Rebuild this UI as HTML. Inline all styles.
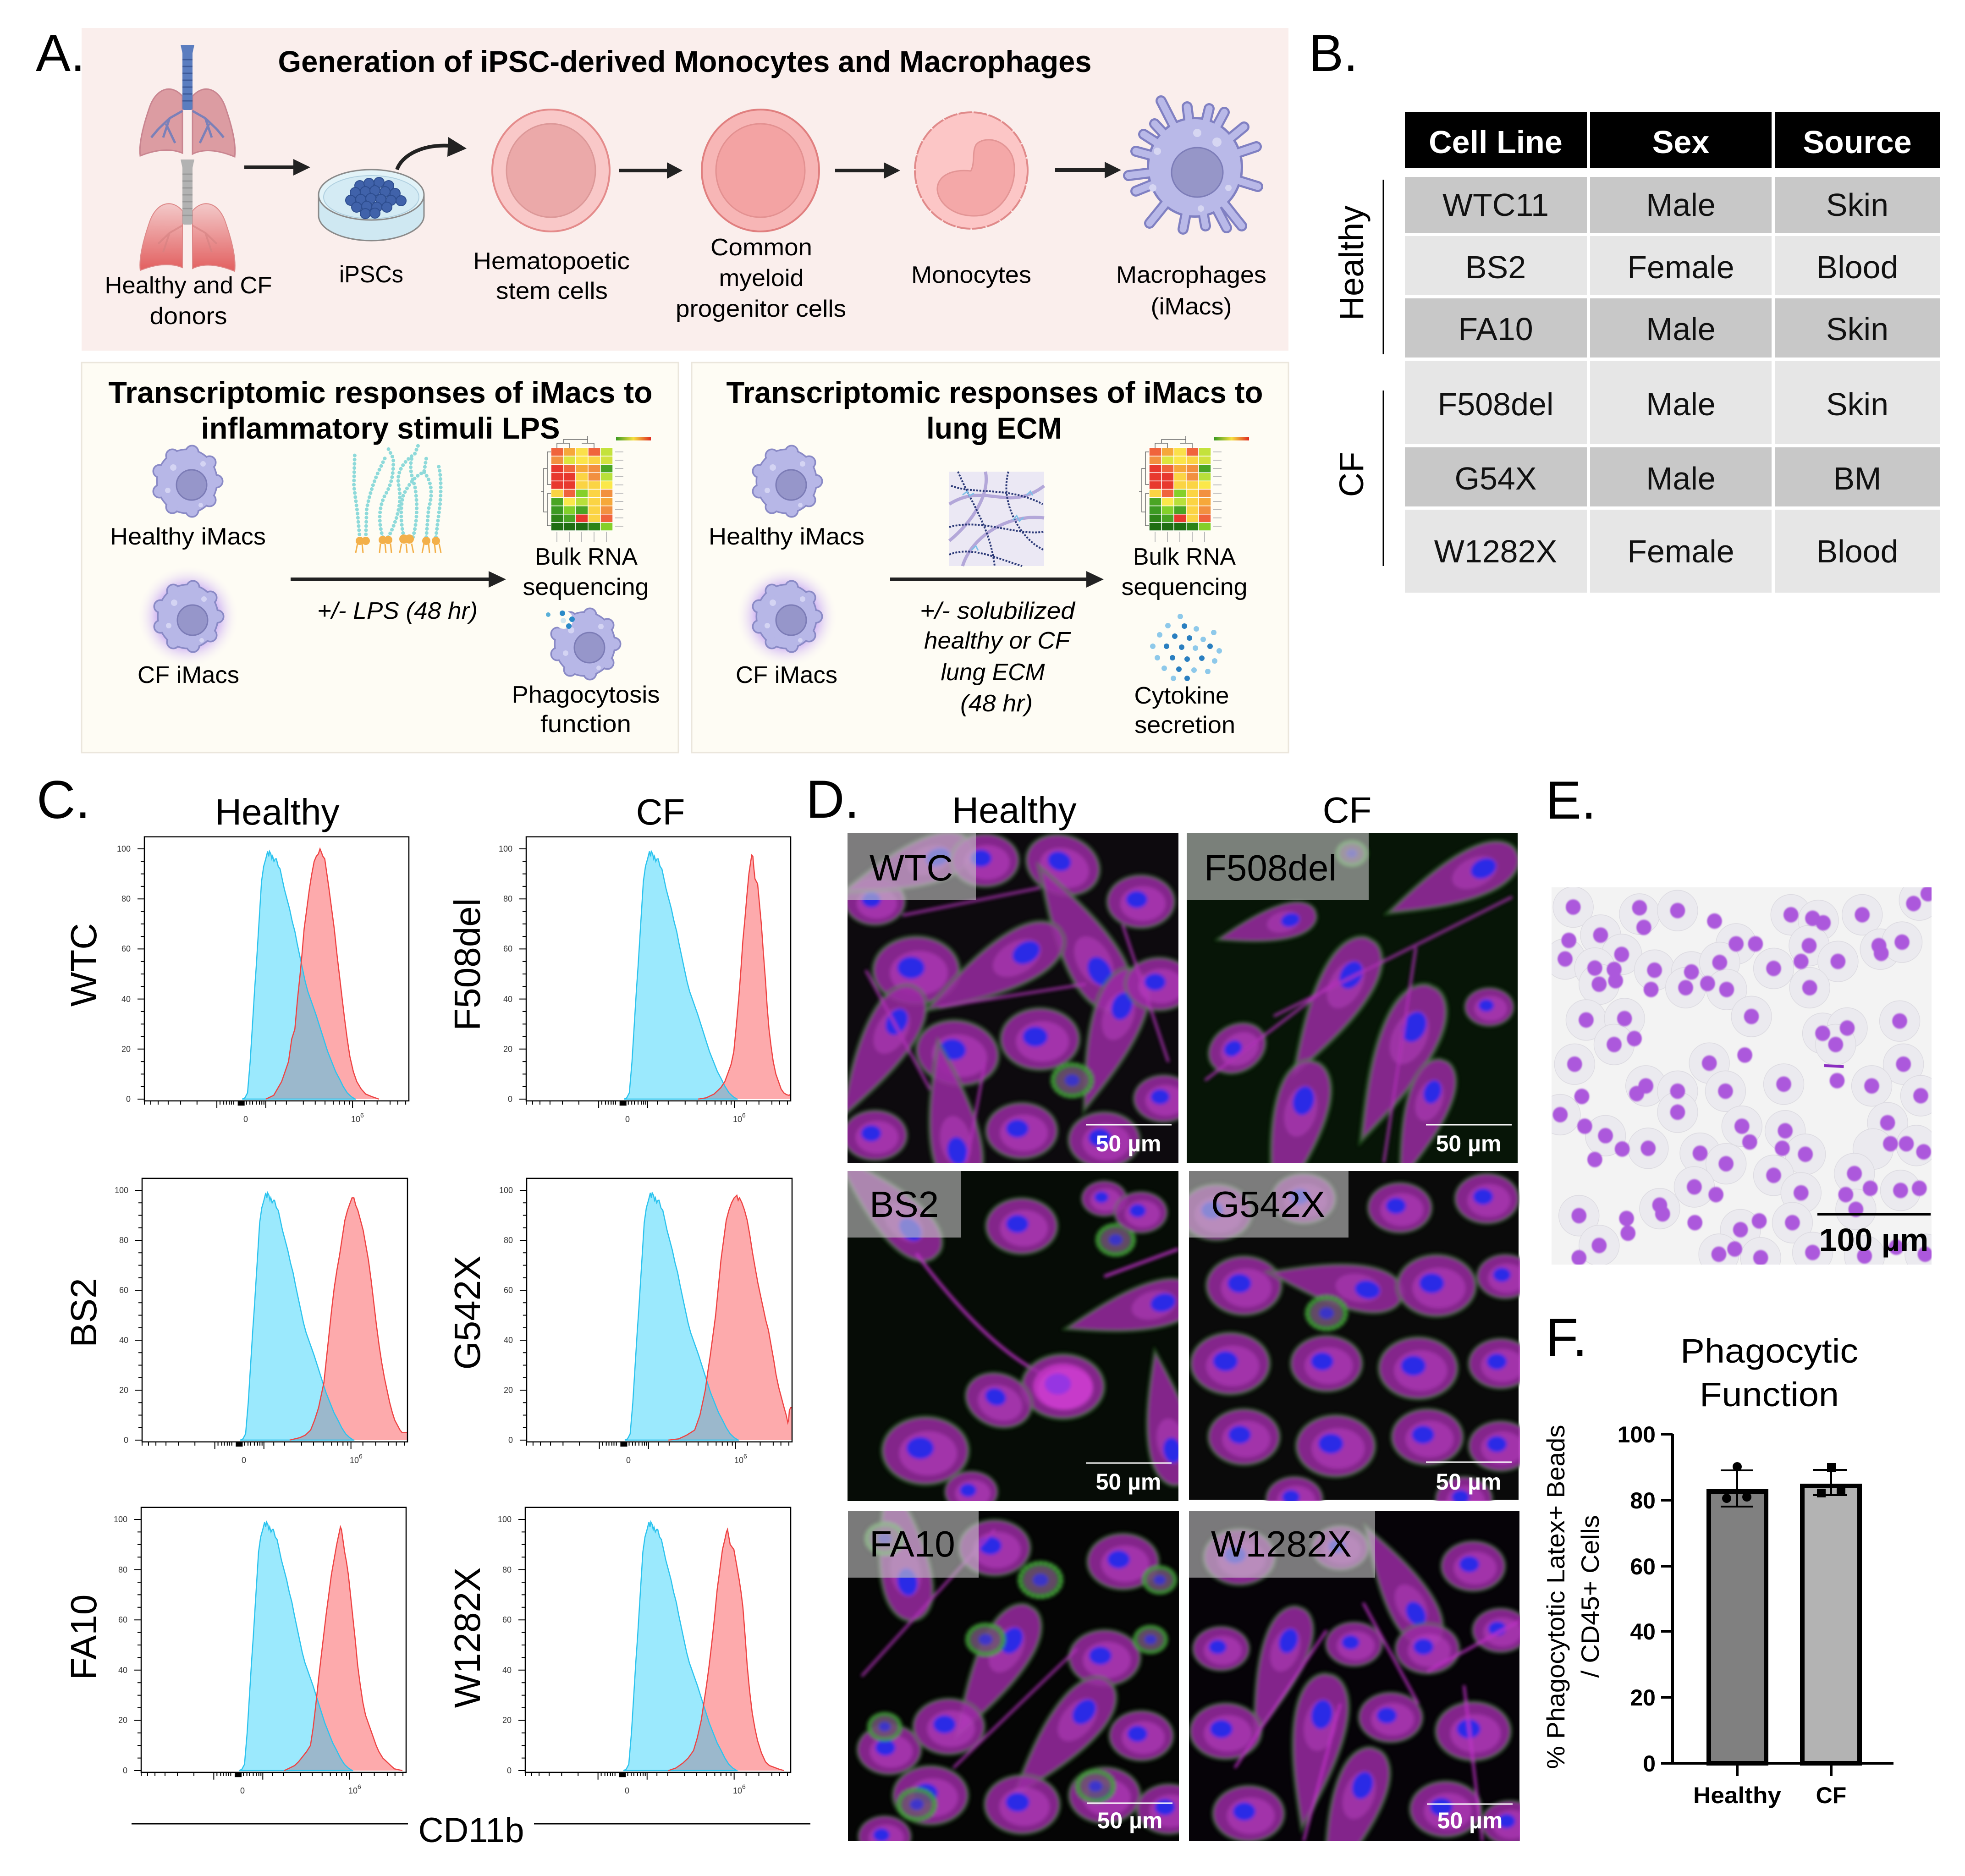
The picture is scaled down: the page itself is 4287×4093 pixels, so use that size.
<!DOCTYPE html>
<html><head><meta charset="utf-8">
<style>html,body{margin:0;padding:0;background:#fff}svg{display:block}text{font-family:"Liberation Sans",Arial,sans-serif}</style>
</head><body>
<svg xmlns="http://www.w3.org/2000/svg" width="4287" height="4093" viewBox="0 0 4287 4093">
<defs>
<polygon id="bpoly" vector-effect="non-scaling-stroke" points="370,0 380,0.5 390,2.5 400,15 410,32 417,44 423,53 433,70 443,87 451,93 459,96 466,99 470,97 473,99 478,98 482,96 485,97 490,95 495,96 499,96 506,93 513,92 521,88 529,84 539,80 549,76 559,71 569,67 578,62 588,57 598,52 608,47 618,43 628,40 638,37 648,34 663,29 678,24 693,19 708,15 723,11 738,8 752,5 767,2.5 782,1 797,0 800,0"/>
<clipPath id="cb"><polygon points="370,0 380,0.5 390,2.5 400,15 410,32 417,44 423,53 433,70 443,87 451,93 459,96 466,99 470,97 473,99 478,98 482,96 485,97 490,95 495,96 499,96 506,93 513,92 521,88 529,84 539,80 549,76 559,71 569,67 578,62 588,57 598,52 608,47 618,43 628,40 638,37 648,34 663,29 678,24 693,19 708,15 723,11 738,8 752,5 767,2.5 782,1 797,0 800,0"/></clipPath>
<g id="ax">
<path vector-effect="non-scaling-stroke" fill="none" stroke="#000" stroke-width="2" d="M0 0H-26M0 20H-26M0 40H-26M0 60H-26M0 80H-26M0 100H-26M0 5H-14M0 10H-14M0 15H-14M0 25H-14M0 30H-14M0 35H-14M0 45H-14M0 50H-14M0 55H-14M0 65H-14M0 70H-14M0 75H-14M0 85H-14M0 90H-14M0 95H-14"/>
<path vector-effect="non-scaling-stroke" fill="none" stroke="#000" stroke-width="2" d="M0 -0.7V-2.2M24 -0.7V-2.2M52 -0.7V-2.2M90 -0.7V-2.2M137 -0.7V-2.2M199 -0.7V-2.2M286 -0.7V-2.2M300 -0.7V-2.2M310 -0.7V-2.2M321 -0.7V-2.2M329 -0.7V-2.2M338 -0.7V-2.2M386 -0.7V-2.2M399 -0.7V-2.2M409 -0.7V-2.2M423 -0.7V-2.2M435 -0.7V-2.2M444 -0.7V-2.2M452 -0.7V-2.2M496 -0.7V-2.2M537 -0.7V-2.2M601 -0.7V-2.2M646 -0.7V-2.2M683 -0.7V-2.2M714 -0.7V-2.2M737 -0.7V-2.2M757 -0.7V-2.2M775 -0.7V-2.2M832 -0.7V-2.2M880 -0.7V-2.2M929 -0.7V-2.2M958 -0.7V-2.2M988 -0.7V-2.2M274 -0.7V-3.6M459 -0.7V-3.6M787 -0.7V-3.6"/>
<rect x="353" y="-2.6" width="26" height="1.9" fill="#000"/>
<rect vector-effect="non-scaling-stroke" x="0" y="-0.7" width="1000" height="105.5" fill="none" stroke="#000" stroke-width="2.5"/>
</g>
<g id="ims"><ellipse rx="64" ry="68"/><circle cx="64" cy="0" r="12"/><circle cx="49" cy="41" r="12"/><circle cx="11" cy="64" r="12"/><circle cx="-32" cy="56" r="12"/><circle cx="-60" cy="22" r="12"/><circle cx="-60" cy="-22" r="12"/><circle cx="-32" cy="-56" r="12"/><circle cx="11" cy="-64" r="12"/><circle cx="49" cy="-41" r="12"/></g>
<g id="imac"><use href="#ims" fill="#8a8ac6" stroke="#8a8ac6" stroke-width="7"/><use href="#ims" fill="#b7b7e7"/><circle cx="10" cy="8" r="33" fill="#9696ca" stroke="#7c7cb6" stroke-width="3"/><circle cx="-30" cy="-30" r="7" fill="#d4d4f3"/><circle cx="35" cy="-38" r="6" fill="#d4d4f3"/><circle cx="-42" cy="20" r="6" fill="#d4d4f3"/><circle cx="30" cy="52" r="5" fill="#d4d4f3"/></g>
<radialGradient id="glow"><stop offset="0.45" stop-color="#a472f2" stop-opacity="0.9"/><stop offset="1" stop-color="#fefcf5" stop-opacity="0"/></radialGradient>
<linearGradient id="lungG" x1="0" y1="0" x2="0" y2="1"><stop offset="0" stop-color="#f3c9c9"/><stop offset="1" stop-color="#e25f5f"/></linearGradient>
<linearGradient id="cbar" x1="0" x2="1"><stop offset="0" stop-color="#3a9a20"/><stop offset="0.5" stop-color="#f6e040"/><stop offset="1" stop-color="#e02a20"/></linearGradient>
<g id="hm">
<g stroke="#fff" stroke-width="1.5">
<rect x="0" y="0" width="27" height="18.1" fill="#f0643c"/><rect x="27" y="0" width="27" height="18.1" fill="#f6a83a"/><rect x="54" y="0" width="27" height="18.1" fill="#fbe04a"/><rect x="81" y="0" width="27" height="18.1" fill="#f0643c"/><rect x="108" y="0" width="27" height="18.1" fill="#c4e23c"/>
<rect x="0" y="18.1" width="27" height="18.1" fill="#f29040"/><rect x="27" y="18.1" width="27" height="18.1" fill="#dde43e"/><rect x="54" y="18.1" width="27" height="18.1" fill="#fbe54a"/><rect x="81" y="18.1" width="27" height="18.1" fill="#fbd444"/><rect x="108" y="18.1" width="27" height="18.1" fill="#d2e23e"/>
<rect x="0" y="36.2" width="27" height="18.1" fill="#e8382e"/><rect x="27" y="36.2" width="27" height="18.1" fill="#f0643c"/><rect x="54" y="36.2" width="27" height="18.1" fill="#f6a83a"/><rect x="81" y="36.2" width="27" height="18.1" fill="#f29040"/><rect x="108" y="36.2" width="27" height="18.1" fill="#4aa524"/>
<rect x="0" y="54.3" width="27" height="18.1" fill="#e8382e"/><rect x="27" y="54.3" width="27" height="18.1" fill="#e8382e"/><rect x="54" y="54.3" width="27" height="18.1" fill="#fbd444"/><rect x="81" y="54.3" width="27" height="18.1" fill="#f29040"/><rect x="108" y="54.3" width="27" height="18.1" fill="#b8e03a"/>
<rect x="0" y="72.4" width="27" height="18.1" fill="#e8382e"/><rect x="27" y="72.4" width="27" height="18.1" fill="#e8382e"/><rect x="54" y="72.4" width="27" height="18.1" fill="#fbd444"/><rect x="81" y="72.4" width="27" height="18.1" fill="#fbd444"/><rect x="108" y="72.4" width="27" height="18.1" fill="#fbe84a"/>
<rect x="0" y="90.5" width="27" height="18.1" fill="#fbd444"/><rect x="27" y="90.5" width="27" height="18.1" fill="#f0643c"/><rect x="54" y="90.5" width="27" height="18.1" fill="#84d02a"/><rect x="81" y="90.5" width="27" height="18.1" fill="#fbd444"/><rect x="108" y="90.5" width="27" height="18.1" fill="#f29040"/>
<rect x="0" y="108.6" width="27" height="18.1" fill="#4aa524"/><rect x="27" y="108.6" width="27" height="18.1" fill="#fbe84a"/><rect x="54" y="108.6" width="27" height="18.1" fill="#b8e03a"/><rect x="81" y="108.6" width="27" height="18.1" fill="#fbd444"/><rect x="108" y="108.6" width="27" height="18.1" fill="#f6a83a"/>
<rect x="0" y="126.7" width="27" height="18.1" fill="#3c9a22"/><rect x="27" y="126.7" width="27" height="18.1" fill="#84d02a"/><rect x="54" y="126.7" width="27" height="18.1" fill="#4aa524"/><rect x="81" y="126.7" width="27" height="18.1" fill="#fbd444"/><rect x="108" y="126.7" width="27" height="18.1" fill="#f29040"/>
<rect x="0" y="144.8" width="27" height="18.1" fill="#2d8418"/><rect x="27" y="144.8" width="27" height="18.1" fill="#4aa524"/><rect x="54" y="144.8" width="27" height="18.1" fill="#e8382e"/><rect x="81" y="144.8" width="27" height="18.1" fill="#fbd444"/><rect x="108" y="144.8" width="27" height="18.1" fill="#f0643c"/>
<rect x="0" y="162.9" width="27" height="18.1" fill="#1f6e12"/><rect x="27" y="162.9" width="27" height="18.1" fill="#1f6e12"/><rect x="54" y="162.9" width="27" height="18.1" fill="#1f6e12"/><rect x="81" y="162.9" width="27" height="18.1" fill="#2d8418"/><rect x="108" y="162.9" width="27" height="18.1" fill="#84d02a"/>
</g>
<path d="M0 9H-8V80H0M-8 45H-16V140H-8M0 100H-8V170H0M-16 95H-22M13 0V-10H40V0M27 -10V-18H80V-10M67 -10H94V0M80 -18V-26" fill="none" stroke="#666" stroke-width="1.5"/>
<rect x="142" y="-24" width="76" height="8" fill="url(#cbar)"/>
<path d="M140 9h18M140 27h18M140 45h18M140 63h18M140 81h18M140 99h18M140 117h18M140 135h18M140 153h18M140 171h18M13 183v22M40 183v22M67 183v22M94 183v22M121 183v22" stroke="#bbb" stroke-width="2"/>
</g>
<g id="cA"><ellipse rx="82" ry="64" fill="#9a2aa2" opacity=".85"/><ellipse rx="82" ry="64" fill="none" stroke="#3f9a36" stroke-width="7" opacity=".45"/><ellipse cx="5" cy="5" rx="55" ry="42" fill="#c84ad0" opacity=".45"/><ellipse cx="-10" cy="-5" rx="26" ry="21" fill="#2a2ae6"/></g>
<g id="cE"><path d="M-170 0C-100 -24 -20 -52 50 -50C115 -48 130 -15 127 0C130 18 110 48 50 50C-20 52 -100 24 -170 0Z" fill="#9a2aa2" opacity=".85"/><path d="M-170 0C-100 -24 -20 -52 50 -50C115 -48 130 -15 127 0C130 18 110 48 50 50C-20 52 -100 24 -170 0Z" fill="none" stroke="#3f9a36" stroke-width="7" opacity=".45"/><ellipse cx="30" cy="0" rx="50" ry="30" fill="#c84ad0" opacity=".4"/><ellipse cx="50" cy="0" rx="28" ry="20" fill="#2a2ae6"/></g>
<g id="cG"><ellipse rx="60" ry="50" fill="#2c7a28" opacity=".75"/><ellipse rx="44" ry="36" fill="#9a3aa0" opacity=".55"/><ellipse rx="52" ry="43" fill="none" stroke="#5ad04a" stroke-width="8" stroke-dasharray="7 6" opacity=".85"/><ellipse cx="0" cy="0" rx="20" ry="16" fill="#3030e0" opacity=".8"/></g>
<filter id="soft" x="-5%" y="-5%" width="110%" height="110%"><feGaussianBlur stdDeviation="4"/></filter>
<filter id="soft2" x="-20%" y="-20%" width="140%" height="140%"><feGaussianBlur stdDeviation="2"/></filter>
<clipPath id="cpD"><rect x="0" y="0" width="722" height="720"/></clipPath>
<clipPath id="cpE"><rect x="3385" y="1936" width="829" height="823"/></clipPath>
<ellipse id="nu" rx="26" ry="22" fill="#ac58dc"/>
<ellipse id="ha" rx="70" ry="58" fill="#e9e8ee" stroke="#d6d4dc" stroke-width="2"/>
</defs>
<rect width="4287" height="4093" fill="#fff"/>

<!-- ================= PANEL A ================= -->
<rect x="178" y="61" width="2633" height="704" fill="#faeeec"/>
<rect x="178" y="791" width="1302" height="851" fill="#fefcf4" stroke="#ebe6dc" stroke-width="3"/>
<rect x="1509" y="791" width="1302" height="851" fill="#fefcf4" stroke="#ebe6dc" stroke-width="3"/>
<text x="78" y="155" font-size="114">A.</text>
<text x="1494" y="157" font-size="66" font-weight="bold" text-anchor="middle" textLength="1775" lengthAdjust="spacingAndGlyphs">Generation of iPSC-derived Monocytes and Macrophages</text>

<!-- lungs -->
<g>
<path d="M398 210C375 183 340 190 325 238C309 285 303 318 306 340C335 328 370 322 398 334Z" fill="#dc9ca2" stroke="#c98590" stroke-width="3"/>
<path d="M420 210C443 183 478 190 493 238C509 285 515 318 512 342C483 330 448 322 420 336Z" fill="#dc9ca2" stroke="#c98590" stroke-width="3"/>
<path d="M398 242L370 258L345 282M370 258L356 300M345 282L330 300M362 270L382 312M420 242L448 258L473 282M448 258L462 300M473 282L488 300M456 270L436 312" stroke="#7b80b8" stroke-width="5" fill="none"/>
<rect x="398" y="108" width="22" height="132" rx="4" fill="#5b7dbf"/>
<path d="M394 98L424 98L420 116L398 116Z" fill="#5b7dbf"/>
<path d="M398 130H420M398 145H420M398 160H420M398 175H420M398 190H420M398 205H420M398 220H420" stroke="#3d5a9a" stroke-width="3"/>
</g>
<g transform="translate(0 250)">
<path d="M398 210C375 183 340 190 325 238C309 285 303 318 306 340C335 328 370 322 398 334Z" fill="url(#lungG)" stroke="#d88" stroke-width="2"/>
<path d="M420 210C443 183 478 190 493 238C509 285 515 318 512 342C483 330 448 322 420 336Z" fill="url(#lungG)" stroke="#d88" stroke-width="2"/>
<path d="M398 242L370 258L345 282M370 258L356 300M420 242L448 258L473 282M448 258L462 300" stroke="#d48080" stroke-width="4" fill="none" opacity=".6"/>
<rect x="398" y="108" width="22" height="132" rx="4" fill="#b2b2b2"/>
<path d="M394 98L424 98L420 116L398 116Z" fill="#b2b2b2"/>
<path d="M398 130H420M398 145H420M398 160H420M398 175H420M398 190H420M398 205H420M398 220H420" stroke="#999" stroke-width="3"/>
</g>
<!-- arrows -->
<g stroke="#222" stroke-width="8">
<line x1="533" y1="365" x2="642" y2="365"/><line x1="1350" y1="372" x2="1457" y2="372"/><line x1="1822" y1="372" x2="1930" y2="372"/><line x1="2302" y1="371" x2="2412" y2="371"/>
<line x1="634" y1="1264" x2="1070" y2="1264"/><line x1="1942" y1="1264" x2="2374" y2="1264"/>
</g>
<g fill="#222">
<polygon points="640,347 677,365 640,383"/><polygon points="1455,354 1489,372 1455,390"/><polygon points="1928,354 1964,372 1928,390"/><polygon points="2410,353 2446,371 2410,389"/>
<polygon points="1066,1246 1104,1264 1066,1282"/><polygon points="2370,1246 2408,1264 2370,1282"/>
</g>
<!-- petri dish -->
<ellipse cx="810" cy="470" rx="115" ry="55" fill="#cfe8f2" stroke="#8a8a8a" stroke-width="3"/>
<rect x="695" y="425" width="230" height="45" fill="#cfe8f2"/>
<path d="M695 425V470M925 425V470" stroke="#8a8a8a" stroke-width="3"/>
<ellipse cx="810" cy="425" rx="115" ry="55" fill="#e2f3f8" stroke="#8a8a8a" stroke-width="3"/>
<ellipse cx="810" cy="430" rx="104" ry="47" fill="#d4ebf4" stroke="#b0d0e0" stroke-width="2"/>
<g fill="#4062aa" stroke="#2d4d8f" stroke-width="2">
<circle cx="785" cy="405" r="11"/><circle cx="805" cy="400" r="11"/><circle cx="827" cy="398" r="11"/><circle cx="848" cy="405" r="11"/><circle cx="775" cy="420" r="11"/><circle cx="797" cy="418" r="11"/><circle cx="818" cy="416" r="11"/><circle cx="840" cy="418" r="11"/><circle cx="862" cy="422" r="11"/><circle cx="765" cy="437" r="11"/><circle cx="787" cy="435" r="11"/><circle cx="809" cy="433" r="11"/><circle cx="831" cy="435" r="11"/><circle cx="853" cy="437" r="11"/><circle cx="875" cy="438" r="11"/><circle cx="778" cy="452" r="11"/><circle cx="800" cy="450" r="11"/><circle cx="822" cy="452" r="11"/><circle cx="844" cy="452" r="11"/><circle cx="797" cy="466" r="11"/><circle cx="818" cy="465" r="11"/>
</g>
<path d="M866 370C876 340 920 314 982 318" stroke="#222" stroke-width="8" fill="none"/>
<polygon points="978,299 1018,324 976,342" fill="#222"/>
<!-- HSC / CMP -->
<ellipse cx="1202" cy="372" rx="128" ry="133" fill="#f9c8c8" stroke="#e48b8b" stroke-width="4"/>
<ellipse cx="1202" cy="372" rx="97" ry="102" fill="#eba9a9" stroke="#dc9898" stroke-width="3"/>
<ellipse cx="1659" cy="372" rx="128" ry="133" fill="#f7b6b6" stroke="#e07f7f" stroke-width="4"/>
<ellipse cx="1659" cy="372" rx="97" ry="102" fill="#f3a3a3" stroke="#e39191" stroke-width="3"/>
<!-- Monocyte -->
<ellipse cx="2119" cy="372" rx="123" ry="127" fill="#fcc6c6" stroke="#e08a8a" stroke-width="4" stroke-dasharray="30 3"/>
<path d="M2118 373C2128 355 2120 330 2130 315C2145 298 2190 300 2208 340C2225 385 2200 450 2150 468C2100 480 2050 455 2045 415C2043 385 2075 368 2118 373Z" fill="#f4a8a8" stroke="#e39595" stroke-width="3"/>
<!-- Macrophage -->
<g stroke-linecap="round">
<path stroke="#8080c2" stroke-width="24" d="M2607 365L2533 220M2607 365L2590 233M2607 365L2638 237M2607 365L2671 245M2607 365L2714 277M2607 365L2741 320M2607 365L2744 407M2607 365L2709 493M2607 365L2676 497M2607 365L2630 493M2607 365L2581 500M2607 365L2508 487M2607 365L2478 417M2607 365L2462 383M2607 365L2478 330M2607 365L2495 293M2607 365L2519 270"/>
<ellipse cx="2607" cy="365" rx="105" ry="110" fill="#8080c2"/>
<path stroke="#b9b9e8" stroke-width="15" d="M2607 365L2533 220M2607 365L2590 233M2607 365L2638 237M2607 365L2671 245M2607 365L2714 277M2607 365L2741 320M2607 365L2744 407M2607 365L2709 493M2607 365L2676 497M2607 365L2630 493M2607 365L2581 500M2607 365L2508 487M2607 365L2478 417M2607 365L2462 383M2607 365L2478 330M2607 365L2495 293M2607 365L2519 270"/>
<ellipse cx="2607" cy="365" rx="100" ry="105" fill="#b9b9e8"/>
<ellipse cx="2612" cy="376" rx="56" ry="54" fill="#9696c8" stroke="#7d7db8" stroke-width="3"/>
<circle cx="2612" cy="290" r="9" fill="#d6d6f2"/><circle cx="2655" cy="310" r="10" fill="#d6d6f2"/><circle cx="2525" cy="330" r="8" fill="#d6d6f2"/><circle cx="2515" cy="410" r="8" fill="#d6d6f2"/><circle cx="2680" cy="410" r="7" fill="#d6d6f2"/><circle cx="2620" cy="455" r="7" fill="#d6d6f2"/>
</g>
<g font-size="52" text-anchor="middle">
<text x="411" y="640" textLength="365" lengthAdjust="spacingAndGlyphs">Healthy and CF</text>
<text x="411" y="707" textLength="169" lengthAdjust="spacingAndGlyphs">donors</text>
<text x="810" y="616" textLength="140" lengthAdjust="spacingAndGlyphs">iPSCs</text>
<text x="1203" y="587" textLength="342" lengthAdjust="spacingAndGlyphs">Hematopoetic</text>
<text x="1204" y="652" textLength="244" lengthAdjust="spacingAndGlyphs">stem cells</text>
<text x="1661" y="557" textLength="222" lengthAdjust="spacingAndGlyphs">Common</text>
<text x="1661" y="624" textLength="185" lengthAdjust="spacingAndGlyphs">myeloid</text>
<text x="1660" y="691" textLength="372" lengthAdjust="spacingAndGlyphs">progenitor cells</text>
<text x="2119" y="617" textLength="262" lengthAdjust="spacingAndGlyphs">Monocytes</text>
<text x="2599" y="617" textLength="328" lengthAdjust="spacingAndGlyphs">Macrophages</text>
<text x="2599" y="686" textLength="177" lengthAdjust="spacingAndGlyphs">(iMacs)</text>
</g>
<g font-size="66" font-weight="bold" text-anchor="middle">
<text x="830" y="879" textLength="1187" lengthAdjust="spacingAndGlyphs">Transcriptomic responses of  iMacs to</text>
<text x="830" y="957" textLength="783" lengthAdjust="spacingAndGlyphs">inflammatory stimuli LPS</text>
<text x="2170" y="879" textLength="1171" lengthAdjust="spacingAndGlyphs">Transcriptomic responses of iMacs to</text>
<text x="2169" y="957" textLength="296" lengthAdjust="spacingAndGlyphs">lung ECM</text>
</g>
<!-- sub icons -->
<circle cx="410" cy="1345" r="112" fill="url(#glow)"/>
<circle cx="1716" cy="1345" r="112" fill="url(#glow)"/>
<use href="#imac" transform="translate(408 1050)"/>
<use href="#imac" transform="translate(410 1345)"/>
<use href="#imac" transform="translate(1716 1050)"/>
<use href="#imac" transform="translate(1716 1345)"/>
<use href="#imac" transform="translate(1276 1405)"/>
<circle cx="1230" cy="1352" r="20" fill="#fefcf4"/>
<circle cx="1196" cy="1341" r="5" fill="#5ab0d8"/><circle cx="1227" cy="1338" r="6" fill="#2a8ac8"/><circle cx="1248" cy="1351" r="6" fill="#2a8ac8"/><circle cx="1241" cy="1366" r="6" fill="#2a8ac8"/><circle cx="1229" cy="1354" r="6" fill="#cfe6f0"/>
<!-- LPS -->
<g fill="none" stroke="#8edada" stroke-width="8" stroke-linecap="round" stroke-dasharray="0.1 9">
<path d="M785 1175L780 1120L772 1060L774 990"/>
<path d="M798 1175L800 1110Q810 1060 830 1020L842 995"/>
<path d="M835 1172Q820 1120 840 1080Q860 1050 858 1000L845 975"/>
<path d="M847 1172Q880 1110 870 1060Q862 1020 905 990L915 965"/>
<path d="M881 1172Q870 1120 880 1080Q900 1040 925 1030L930 1000"/>
<path d="M901 1172Q915 1120 905 1060Q890 1020 900 995"/>
<path d="M930 1172L935 1110Q950 1060 925 1030"/>
<path d="M951 1172L960 1100Q965 1040 955 1010"/>
</g>
<g fill="#f3b04a"><circle cx="785" cy="1180" r="9"/><circle cx="798" cy="1180" r="9"/><circle cx="835" cy="1178" r="9"/><circle cx="847" cy="1178" r="9"/><circle cx="881" cy="1176" r="10"/><circle cx="893" cy="1176" r="10"/><circle cx="930" cy="1180" r="9"/><circle cx="951" cy="1180" r="9"/></g>
<path d="M780 1186L776 1206M790 1186L792 1206M830 1186L828 1206M840 1186L842 1206M852 1186L854 1206M876 1186L872 1206M886 1186L888 1206M898 1186L902 1206M925 1186L921 1206M935 1186L937 1206M948 1186L950 1206M958 1186L962 1206" stroke="#f3b04a" stroke-width="3"/>
<!-- heatmaps -->
<use href="#hm" transform="translate(1202 977)"/>
<use href="#hm" transform="translate(2507 977)"/>
<!-- ECM -->
<rect x="2071" y="1029" width="207" height="206" fill="#ebe8f4"/>
<g fill="none">
<path d="M2071 1100C2150 1050 2200 1120 2278 1060M2100 1235C2120 1170 2200 1120 2278 1130M2150 1029C2160 1080 2120 1140 2071 1180" stroke="#a99bd4" stroke-width="7" opacity=".85"/>
<path d="M2075 1060C2130 1080 2200 1060 2275 1100M2090 1029C2120 1100 2160 1150 2170 1235M2071 1150C2140 1130 2220 1170 2278 1160M2200 1029C2180 1100 2230 1180 2278 1200M2071 1210C2120 1190 2180 1220 2230 1235" stroke="#2c3a78" stroke-width="4" stroke-dasharray="4 3"/>
<path d="M2100 1080l10 -8l5 10l10 -6M2210 1135l8 -10l6 12l9 -8M2120 1200l9 -9l5 10M2240 1080l8 -8l5 9" stroke="#7ec0e8" stroke-width="3"/>
</g>
<!-- cytokine dots -->
<g>
<circle cx="2575" cy="1345" r="6" fill="#8ec9ea"/><circle cx="2548" cy="1365" r="6" fill="#8ec9ea"/><circle cx="2584" cy="1366" r="6" fill="#2a7fc0"/><circle cx="2610" cy="1372" r="6" fill="#8ec9ea"/><circle cx="2530" cy="1385" r="6" fill="#8ec9ea"/><circle cx="2563" cy="1388" r="6" fill="#2a7fc0"/><circle cx="2595" cy="1392" r="6" fill="#2a7fc0"/><circle cx="2625" cy="1395" r="6" fill="#8ec9ea"/><circle cx="2648" cy="1380" r="6" fill="#8ec9ea"/><circle cx="2515" cy="1410" r="6" fill="#8ec9ea"/><circle cx="2545" cy="1410" r="6" fill="#2a7fc0"/><circle cx="2578" cy="1412" r="6" fill="#2a7fc0"/><circle cx="2608" cy="1414" r="6" fill="#8ec9ea"/><circle cx="2640" cy="1410" r="6" fill="#2a7fc0"/><circle cx="2660" cy="1420" r="6" fill="#8ec9ea"/><circle cx="2525" cy="1435" r="6" fill="#8ec9ea"/><circle cx="2558" cy="1435" r="6" fill="#2a7fc0"/><circle cx="2590" cy="1438" r="6" fill="#2a7fc0"/><circle cx="2622" cy="1436" r="6" fill="#2a7fc0"/><circle cx="2650" cy="1442" r="6" fill="#8ec9ea"/><circle cx="2540" cy="1458" r="6" fill="#8ec9ea"/><circle cx="2572" cy="1460" r="6" fill="#2a7fc0"/><circle cx="2605" cy="1462" r="6" fill="#8ec9ea"/><circle cx="2635" cy="1465" r="6" fill="#8ec9ea"/><circle cx="2560" cy="1480" r="6" fill="#8ec9ea"/><circle cx="2590" cy="1480" r="6" fill="#2a7fc0"/>
</g>
<g font-size="52" text-anchor="middle">
<text x="410" y="1188" textLength="340" lengthAdjust="spacingAndGlyphs">Healthy iMacs</text>
<text x="411" y="1490" textLength="222" lengthAdjust="spacingAndGlyphs">CF iMacs</text>
<text x="867" y="1350" font-style="italic" textLength="350" lengthAdjust="spacingAndGlyphs">+/- LPS (48 hr)</text>
<text x="1279" y="1232" textLength="224" lengthAdjust="spacingAndGlyphs">Bulk RNA</text>
<text x="1278" y="1298" textLength="275" lengthAdjust="spacingAndGlyphs">sequencing</text>
<text x="1278" y="1533" textLength="323" lengthAdjust="spacingAndGlyphs">Phagocytosis</text>
<text x="1278" y="1597" textLength="198" lengthAdjust="spacingAndGlyphs">function</text>
<text x="1716" y="1188" textLength="340" lengthAdjust="spacingAndGlyphs">Healthy iMacs</text>
<text x="1716" y="1490" textLength="222" lengthAdjust="spacingAndGlyphs">CF iMacs</text>
<text x="2176" y="1350" font-style="italic" textLength="338" lengthAdjust="spacingAndGlyphs">+/- solubilized</text>
<text x="2175" y="1415" font-style="italic" textLength="318" lengthAdjust="spacingAndGlyphs">healthy or CF</text>
<text x="2166" y="1484" font-style="italic" textLength="227" lengthAdjust="spacingAndGlyphs">lung ECM</text>
<text x="2174" y="1552" font-style="italic" textLength="158" lengthAdjust="spacingAndGlyphs">(48 hr)</text>
<text x="2584" y="1232" textLength="224" lengthAdjust="spacingAndGlyphs">Bulk RNA</text>
<text x="2584" y="1298" textLength="275" lengthAdjust="spacingAndGlyphs">sequencing</text>
<text x="2578" y="1535" textLength="207" lengthAdjust="spacingAndGlyphs">Cytokine</text>
<text x="2585" y="1599" textLength="220" lengthAdjust="spacingAndGlyphs">secretion</text>
</g>

<!-- ================= PANEL B ================= -->
<text x="2855" y="155" font-size="114">B.</text>
<rect x="3065" y="244" width="397" height="122" fill="#000"/><rect x="3469" y="244" width="396" height="122" fill="#000"/><rect x="3872" y="244" width="360" height="122" fill="#000"/>
<g>
<rect x="3065" y="386" width="397" height="122" fill="#c8c8c8"/><rect x="3469" y="386" width="396" height="122" fill="#c8c8c8"/><rect x="3872" y="386" width="360" height="122" fill="#c8c8c8"/>
<rect x="3065" y="515" width="397" height="129" fill="#e6e6e6"/><rect x="3469" y="515" width="396" height="129" fill="#e6e6e6"/><rect x="3872" y="515" width="360" height="129" fill="#e6e6e6"/>
<rect x="3065" y="651" width="397" height="129" fill="#c8c8c8"/><rect x="3469" y="651" width="396" height="129" fill="#c8c8c8"/><rect x="3872" y="651" width="360" height="129" fill="#c8c8c8"/>
<rect x="3065" y="787" width="397" height="182" fill="#e6e6e6"/><rect x="3469" y="787" width="396" height="182" fill="#e6e6e6"/><rect x="3872" y="787" width="360" height="182" fill="#e6e6e6"/>
<rect x="3065" y="976" width="397" height="129" fill="#c8c8c8"/><rect x="3469" y="976" width="396" height="129" fill="#c8c8c8"/><rect x="3872" y="976" width="360" height="129" fill="#c8c8c8"/>
<rect x="3065" y="1112" width="397" height="181" fill="#e6e6e6"/><rect x="3469" y="1112" width="396" height="181" fill="#e6e6e6"/><rect x="3872" y="1112" width="360" height="181" fill="#e6e6e6"/>
</g>
<g font-size="70" font-weight="bold" fill="#fff" text-anchor="middle">
<text x="3263" y="334">Cell Line</text><text x="3667" y="334">Sex</text><text x="4052" y="334">Source</text>
</g>
<g font-size="70" text-anchor="middle" fill="#111">
<text x="3263" y="471">WTC11</text><text x="3667" y="471">Male</text><text x="4052" y="471">Skin</text>
<text x="3263" y="607">BS2</text><text x="3667" y="607">Female</text><text x="4052" y="607">Blood</text>
<text x="3263" y="742">FA10</text><text x="3667" y="742">Male</text><text x="4052" y="742">Skin</text>
<text x="3263" y="906">F508del</text><text x="3667" y="906">Male</text><text x="4052" y="906">Skin</text>
<text x="3263" y="1068">G54X</text><text x="3667" y="1068">Male</text><text x="4052" y="1068">BM</text>
<text x="3263" y="1227">W1282X</text><text x="3667" y="1227">Female</text><text x="4052" y="1227">Blood</text>
</g>
<path d="M3018 392V773M3018 852V1235" stroke="#000" stroke-width="3"/>
<text x="2974" y="574" font-size="74" text-anchor="middle" transform="rotate(-90 2974 574)">Healthy</text>
<text x="2974" y="1035" font-size="74" text-anchor="middle" transform="rotate(-90 2974 1035)">CF</text>

<!-- ================= PANEL C ================= -->
<text x="80" y="1785" font-size="117">C.</text>
<text x="605" y="1799" font-size="80" text-anchor="middle">Healthy</text>
<text x="1441" y="1799" font-size="80" text-anchor="middle">CF</text>
<g font-size="80" text-anchor="middle">
<text x="210" y="2105" transform="rotate(-90 210 2105)">WTC</text>
<text x="1047" y="2104" transform="rotate(-90 1047 2104)">F508del</text>
<text x="210" y="2864" transform="rotate(-90 210 2864)">BS2</text>
<text x="1047" y="2864" transform="rotate(-90 1047 2864)">G542X</text>
<text x="210" y="3572" transform="rotate(-90 210 3572)">FA10</text>
<text x="1047" y="3573" transform="rotate(-90 1047 3573)">W1282X</text>
</g>

<g transform="translate(315 2398) scale(0.577 -5.46)">
<use href="#bpoly" fill="#9be9fd"/>
<polygon points="459,0 489,1.5 519,7 545,15 557,24 569,28 579,40 588,49 596,58 604,68 614,76 624,84 633,90 642,95 650,97 658,98 664,100 668,99 675,97 682,96 690,90 698,84 708,76 718,68 728,58 738,49 748,40 757,32 767,24 777,17 790,11 803,7 820,4 837,2 860,1 887,0" fill="#fdaaac"/>
<polygon points="459,0 489,1.5 519,7 545,15 557,24 569,28 579,40 588,49 596,58 604,68 614,76 624,84 633,90 642,95 650,97 658,98 664,100 668,99 675,97 682,96 690,90 698,84 708,76 718,68 728,58 738,49 748,40 757,32 767,24 777,17 790,11 803,7 820,4 837,2 860,1 887,0" fill="#9bb8cc" clip-path="url(#cb)"/>
<use href="#bpoly" fill="none" stroke="#2cc3ee" stroke-width="2.5"/>
<polyline vector-effect="non-scaling-stroke" points="459,0 489,1.5 519,7 545,15 557,24 569,28 579,40 588,49 596,58 604,68 614,76 624,84 633,90 642,95 650,97 658,98 664,100 668,99 675,97 682,96 690,90 698,84 708,76 718,68 728,58 738,49 748,40 757,32 767,24 777,17 790,11 803,7 820,4 837,2 860,1 887,0" fill="none" stroke="#ee4343" stroke-width="2.5"/>
<use href="#ax"/>
</g>
<g transform="translate(1148 2398) scale(0.577 -5.46)">
<use href="#bpoly" fill="#9be9fd"/>
<polygon points="650,0 680,0.5 710,2 736,4.6 751,7 765,11 775,14 785,19 795,30 805,42 812,52 819,63 827,72 835,82 842,90 849,95 853,97.5 857,97 861,92 865,88 870,87 875,86 882,78 889,70 897,58 905,47 911,37 918,28 926,21 934,15 944,10 954,7 964,4 974,2.5 984,1.8 994,1.5 1000,2 1000,0" fill="#fdaaac"/>
<polygon points="650,0 680,0.5 710,2 736,4.6 751,7 765,11 775,14 785,19 795,30 805,42 812,52 819,63 827,72 835,82 842,90 849,95 853,97.5 857,97 861,92 865,88 870,87 875,86 882,78 889,70 897,58 905,47 911,37 918,28 926,21 934,15 944,10 954,7 964,4 974,2.5 984,1.8 994,1.5 1000,2 1000,0" fill="#9bb8cc" clip-path="url(#cb)"/>
<use href="#bpoly" fill="none" stroke="#2cc3ee" stroke-width="2.5"/>
<polyline vector-effect="non-scaling-stroke" points="650,0 680,0.5 710,2 736,4.6 751,7 765,11 775,14 785,19 795,30 805,42 812,52 819,63 827,72 835,82 842,90 849,95 853,97.5 857,97 861,92 865,88 870,87 875,86 882,78 889,70 897,58 905,47 911,37 918,28 926,21 934,15 944,10 954,7 964,4 974,2.5 984,1.8 994,1.5 1000,2" fill="none" stroke="#ee4343" stroke-width="2.5"/>
<use href="#ax"/>
</g>
<g transform="translate(310 3142) scale(0.579 -5.45)">
<use href="#bpoly" fill="#9be9fd"/>
<polygon points="556,0 595,1 615,2 635,4 650,8 665,13 675,18 685,23 695,33 704,42 714,52 724,61 734,68 744,74 754,81 764,88 774,92 784,95 791,97 798,97 805,94 813,92 823,88 833,84 843,78 853,72 863,64 873,55 883,46 893,38 903,31 913,25 923,20 933,15 943,11 952,8 962,6 972,4 980,3 988,3 1000,3 1000,0" fill="#fdaaac"/>
<polygon points="556,0 595,1 615,2 635,4 650,8 665,13 675,18 685,23 695,33 704,42 714,52 724,61 734,68 744,74 754,81 764,88 774,92 784,95 791,97 798,97 805,94 813,92 823,88 833,84 843,78 853,72 863,64 873,55 883,46 893,38 903,31 913,25 923,20 933,15 943,11 952,8 962,6 972,4 980,3 988,3 1000,3 1000,0" fill="#9bb8cc" clip-path="url(#cb)"/>
<use href="#bpoly" fill="none" stroke="#2cc3ee" stroke-width="2.5"/>
<polyline vector-effect="non-scaling-stroke" points="556,0 595,1 615,2 635,4 650,8 665,13 675,18 685,23 695,33 704,42 714,52 724,61 734,68 744,74 754,81 764,88 774,92 784,95 791,97 798,97 805,94 813,92 823,88 833,84 843,78 853,72 863,64 873,55 883,46 893,38 903,31 913,25 923,20 933,15 943,11 952,8 962,6 972,4 980,3 988,3 1000,3" fill="none" stroke="#ee4343" stroke-width="2.5"/>
<use href="#ax"/>
</g>
<g transform="translate(1149 3142) scale(0.579 -5.45)">
<use href="#bpoly" fill="#9be9fd"/>
<polygon points="534,0 573,0.5 603,2 633,4 653,10 673,20 682,27 692,34 702,42 712,50 722,61 732,72 742,80 752,88 762,92 772,95 782,97 792,98 797,96 802,97 811,95 821,92 831,88 841,82 851,75 861,69 871,63 881,58 891,53 901,48 911,44 921,38 931,32 940,26 950,21 960,17 970,13 978,10 984,7 987,8 990,12 995,13 1000,13 1000,0" fill="#fdaaac"/>
<polygon points="534,0 573,0.5 603,2 633,4 653,10 673,20 682,27 692,34 702,42 712,50 722,61 732,72 742,80 752,88 762,92 772,95 782,97 792,98 797,96 802,97 811,95 821,92 831,88 841,82 851,75 861,69 871,63 881,58 891,53 901,48 911,44 921,38 931,32 940,26 950,21 960,17 970,13 978,10 984,7 987,8 990,12 995,13 1000,13 1000,0" fill="#9bb8cc" clip-path="url(#cb)"/>
<use href="#bpoly" fill="none" stroke="#2cc3ee" stroke-width="2.5"/>
<polyline vector-effect="non-scaling-stroke" points="534,0 573,0.5 603,2 633,4 653,10 673,20 682,27 692,34 702,42 712,50 722,61 732,72 742,80 752,88 762,92 772,95 782,97 792,98 797,96 802,97 811,95 821,92 831,88 841,82 851,75 861,69 871,63 881,58 891,53 901,48 911,44 921,38 931,32 940,26 950,21 960,17 970,13 978,10 984,7 987,8 990,12 995,13 1000,13" fill="none" stroke="#ee4343" stroke-width="2.5"/>
<use href="#ax"/>
</g>
<g transform="translate(308 3863) scale(0.578 -5.48)">
<use href="#bpoly" fill="#9be9fd"/>
<polygon points="540,0 560,1 579,2 594,3.5 609,5.5 624,7.5 639,10 649,17 659,26 669,36 679,45 689,54 698,62 708,70 718,78 728,84 738,90 746,94 752,97 756,96 760,93 768,87 775,83 782,78 790,70 798,62 808,52 817,42 827,34 837,27 847,22 857,19 867,16 877,13 887,10 897,7.6 912,5 927,3.5 942,2 956,0.7 986,0" fill="#fdaaac"/>
<polygon points="540,0 560,1 579,2 594,3.5 609,5.5 624,7.5 639,10 649,17 659,26 669,36 679,45 689,54 698,62 708,70 718,78 728,84 738,90 746,94 752,97 756,96 760,93 768,87 775,83 782,78 790,70 798,62 808,52 817,42 827,34 837,27 847,22 857,19 867,16 877,13 887,10 897,7.6 912,5 927,3.5 942,2 956,0.7 986,0" fill="#9bb8cc" clip-path="url(#cb)"/>
<use href="#bpoly" fill="none" stroke="#2cc3ee" stroke-width="2.5"/>
<polyline vector-effect="non-scaling-stroke" points="540,0 560,1 579,2 594,3.5 609,5.5 624,7.5 639,10 649,17 659,26 669,36 679,45 689,54 698,62 708,70 718,78 728,84 738,90 746,94 752,97 756,96 760,93 768,87 775,83 782,78 790,70 798,62 808,52 817,42 827,34 837,27 847,22 857,19 867,16 877,13 887,10 897,7.6 912,5 927,3.5 942,2 956,0.7 986,0" fill="none" stroke="#ee4343" stroke-width="2.5"/>
<use href="#ax"/>
</g>
<g transform="translate(1146 3863) scale(0.579 -5.48)">
<use href="#bpoly" fill="#9be9fd"/>
<polygon points="539,0 567,1 594,3 614,5 634,8 648,13 663,20 673,27 683,34 693,42 703,51 713,61 723,72 733,80 743,88 752,92 758,95 762,96 767,93 772,90 779,89 786,88 796,82 806,76 813,71 820,65 828,54 836,42 845,32 855,23 865,17 875,12 890,7 905,3.5 920,2 935,1.4 955,0.6 974,0" fill="#fdaaac"/>
<polygon points="539,0 567,1 594,3 614,5 634,8 648,13 663,20 673,27 683,34 693,42 703,51 713,61 723,72 733,80 743,88 752,92 758,95 762,96 767,93 772,90 779,89 786,88 796,82 806,76 813,71 820,65 828,54 836,42 845,32 855,23 865,17 875,12 890,7 905,3.5 920,2 935,1.4 955,0.6 974,0" fill="#9bb8cc" clip-path="url(#cb)"/>
<use href="#bpoly" fill="none" stroke="#2cc3ee" stroke-width="2.5"/>
<polyline vector-effect="non-scaling-stroke" points="539,0 567,1 594,3 614,5 634,8 648,13 663,20 673,27 683,34 693,42 703,51 713,61 723,72 733,80 743,88 752,92 758,95 762,96 767,93 772,90 779,89 786,88 796,82 806,76 813,71 820,65 828,54 836,42 845,32 855,23 865,17 875,12 890,7 905,3.5 920,2 935,1.4 955,0.6 974,0" fill="none" stroke="#ee4343" stroke-width="2.5"/>
<use href="#ax"/>
</g>
<g font-size="18" fill="#333" text-anchor="end">
<text x="285" y="2404">0</text><text x="285" y="2295">20</text><text x="285" y="2186">40</text><text x="285" y="2076">60</text><text x="285" y="1967">80</text><text x="285" y="1858">100</text>
<text x="1118" y="2404">0</text><text x="1118" y="2295">20</text><text x="1118" y="2186">40</text><text x="1118" y="2076">60</text><text x="1118" y="1967">80</text><text x="1118" y="1858">100</text>
<text x="280" y="3148">0</text><text x="280" y="3039">20</text><text x="280" y="2930">40</text><text x="280" y="2821">60</text><text x="280" y="2712">80</text><text x="280" y="2603">100</text>
<text x="1119" y="3148">0</text><text x="1119" y="3039">20</text><text x="1119" y="2930">40</text><text x="1119" y="2821">60</text><text x="1119" y="2712">80</text><text x="1119" y="2603">100</text>
<text x="278" y="3869">0</text><text x="278" y="3759">20</text><text x="278" y="3650">40</text><text x="278" y="3540">60</text><text x="278" y="3431">80</text><text x="278" y="3321">100</text>
<text x="1116" y="3869">0</text><text x="1116" y="3759">20</text><text x="1116" y="3650">40</text><text x="1116" y="3540">60</text><text x="1116" y="3431">80</text><text x="1116" y="3321">100</text>
</g>
<g font-size="18" fill="#333">
<text x="531" y="2448">0</text><text x="766" y="2448">10<tspan dy="-10" font-size="14">6</tspan></text>
<text x="1364" y="2448">0</text><text x="1599" y="2448">10<tspan dy="-10" font-size="14">6</tspan></text>
<text x="527" y="3192">0</text><text x="763" y="3192">10<tspan dy="-10" font-size="14">6</tspan></text>
<text x="1366" y="3192">0</text><text x="1602" y="3192">10<tspan dy="-10" font-size="14">6</tspan></text>
<text x="524" y="3913">0</text><text x="760" y="3913">10<tspan dy="-10" font-size="14">6</tspan></text>
<text x="1363" y="3913">0</text><text x="1599" y="3913">10<tspan dy="-10" font-size="14">6</tspan></text>
</g>
<path d="M287 3979H890M1165 3979H1768" stroke="#000" stroke-width="3"/>
<text x="1028" y="4019" font-size="76" text-anchor="middle">CD11b</text>

<!-- ================= PANEL D ================= -->
<text x="1758" y="1784" font-size="117">D.</text>
<text x="2213" y="1795" font-size="80" text-anchor="middle">Healthy</text>
<text x="2939" y="1795" font-size="80" text-anchor="middle">CF</text>

<!-- WTC -->
<g transform="translate(1849 1817)">
<g clip-path="url(#cpD)">
<rect width="722" height="720" fill="#0d0a0e"/>
<g filter="url(#soft)">
<use href="#cA" transform="translate(60 150) scale(0.8)"/>
<use href="#cE" transform="translate(150 70) rotate(-20) scale(1.0)"/>
<use href="#cA" transform="translate(300 60) scale(0.9)"/>
<use href="#cA" transform="translate(470 70) rotate(20) scale(1.0)"/>
<use href="#cA" transform="translate(640 150) scale(0.9)"/>
<use href="#cE" transform="translate(520 250) rotate(60) scale(1.2)"/>
<use href="#cA" transform="translate(150 300) scale(1.15)"/>
<use href="#cE" transform="translate(340 290) rotate(-30) scale(1.15)"/>
<use href="#cE" transform="translate(80 460) rotate(-60) scale(1.1)"/>
<use href="#cA" transform="translate(240 480) rotate(10) scale(1.1)"/>
<use href="#cA" transform="translate(420 450) scale(1.05)"/>
<use href="#cE" transform="translate(580 430) rotate(-70) scale(1.1)"/>
<use href="#cA" transform="translate(680 330) scale(0.9)"/>
<use href="#cG" transform="translate(490 540) scale(0.8)"/>
<use href="#cE" transform="translate(230 640) rotate(80) scale(1.1)"/>
<use href="#cA" transform="translate(380 650) scale(0.95)"/>
<use href="#cA" transform="translate(560 670) scale(0.95)"/>
<use href="#cA" transform="translate(690 580) scale(0.8)"/>
<use href="#cA" transform="translate(60 660) scale(0.85)"/>
<path d="M120 180L420 120M200 380L520 330M300 500L260 720M600 200L700 500M40 300L180 560" stroke="#b030b8" stroke-width="5" fill="none"/>
</g>
</g>
<rect width="280" height="146" fill="#c8c8c8" opacity=".6"/>
<text x="48" y="104" font-size="80">WTC</text>
<line x1="520" y1="637" x2="707" y2="637" stroke="#fff" stroke-width="3"/>
<text x="613" y="695" font-size="50" font-weight="bold" fill="#fff" text-anchor="middle">50 µm</text>
</g>

<!-- F508del -->
<g transform="translate(2589 1817)">
<g clip-path="url(#cpD)">
<rect width="724" height="720" fill="#071507"/>
<g filter="url(#soft)">
<use href="#cG" transform="translate(360 45) scale(0.6)"/>
<use href="#cE" transform="translate(190 200) rotate(-15) scale(0.75)"/>
<use href="#cE" transform="translate(600 100) rotate(-25) scale(1.05)"/>
<use href="#cE" transform="translate(330 360) rotate(-60) scale(1.15)"/>
<use href="#cA" transform="translate(110 470) rotate(-30) scale(0.8)"/>
<use href="#cE" transform="translate(470 480) rotate(-65) scale(1.25)"/>
<use href="#cA" transform="translate(660 380) scale(0.65)"/>
<use href="#cE" transform="translate(520 610) rotate(-70) scale(0.95)"/>
<use href="#cE" transform="translate(240 640) rotate(-75) scale(1.15)"/>
<path d="M190 400L710 140M40 540L330 320M500 250L430 720" stroke="#b030b8" stroke-width="5" fill="none"/>
</g>
</g>
<rect width="397" height="146" fill="#c8c8c8" opacity=".6"/>
<text x="38" y="104" font-size="80">F508del</text>
<line x1="522" y1="637" x2="709" y2="637" stroke="#fff" stroke-width="3"/>
<text x="615" y="695" font-size="50" font-weight="bold" fill="#fff" text-anchor="middle">50 µm</text>
</g>

<!-- BS2 -->
<g transform="translate(1849 2555)">
<g clip-path="url(#cpD)">
<rect width="722" height="720" fill="#060c06"/>
<g filter="url(#soft)">
<use href="#cE" transform="translate(100 90) rotate(45) scale(1.05)"/>
<use href="#cA" transform="translate(380 120) scale(0.95)"/>
<use href="#cA" transform="translate(560 60) scale(0.6)"/>
<use href="#cG" transform="translate(585 150) scale(0.75)"/>
<use href="#cA" transform="translate(640 90) scale(0.7)"/>
<use href="#cE" transform="translate(640 300) rotate(-15) scale(1.0)"/>
<path d="M150 180Q300 380 420 440M560 230L722 170" stroke="#c030c8" stroke-width="6" fill="none"/>
<use href="#cA" transform="translate(470 470) scale(1.1)"/>
<ellipse cx="470" cy="470" rx="65" ry="50" fill="#e040e0" opacity=".6"/>
<use href="#cA" transform="translate(330 500) rotate(20) scale(0.9)"/>
<use href="#cA" transform="translate(170 610) scale(1.15)"/>
<use href="#cE" transform="translate(700 560) rotate(80) scale(1.0)"/>
<use href="#cA" transform="translate(270 700) scale(0.7)"/>
</g>
</g>
<rect width="248" height="145" fill="#c8c8c8" opacity=".6"/>
<text x="48" y="100" font-size="80">BS2</text>
<line x1="520" y1="637" x2="707" y2="637" stroke="#fff" stroke-width="3"/>
<text x="613" y="695" font-size="50" font-weight="bold" fill="#fff" text-anchor="middle">50 µm</text>
</g>

<!-- G542X -->
<g transform="translate(2594 2555)">
<g clip-path="url(#cpD)">
<rect width="719" height="717" fill="#0a0a0a"/>
<g filter="url(#soft)">
<use href="#cA" transform="translate(60 90) scale(0.95)"/><use href="#cA" transform="translate(250 60) scale(0.85)"/><use href="#cA" transform="translate(460 80) scale(0.85)"/><use href="#cA" transform="translate(650 60) scale(0.85)"/>
<use href="#cA" transform="translate(120 250) scale(1.0)"/><use href="#cE" transform="translate(340 250) rotate(10) scale(1.0)"/><use href="#cA" transform="translate(540 250) scale(1.05)"/><use href="#cA" transform="translate(690 230) scale(0.75)"/>
<use href="#cA" transform="translate(90 420) scale(1.05)"/><use href="#cG" transform="translate(300 310) scale(0.8)"/><use href="#cA" transform="translate(300 420) scale(0.95)"/><use href="#cA" transform="translate(500 430) scale(1.05)"/><use href="#cA" transform="translate(680 420) scale(0.85)"/>
<use href="#cA" transform="translate(120 580) scale(0.95)"/><use href="#cA" transform="translate(320 600) scale(1.05)"/><use href="#cA" transform="translate(520 580) scale(0.95)"/><use href="#cA" transform="translate(680 600) scale(0.85)"/>
<use href="#cA" transform="translate(230 715) scale(0.75)"/><use href="#cA" transform="translate(600 715) scale(0.75)"/>
</g>
</g>
<rect width="348" height="145" fill="#c8c8c8" opacity=".6"/>
<text x="48" y="100" font-size="80">G542X</text>
<line x1="517" y1="635" x2="704" y2="635" stroke="#fff" stroke-width="3"/>
<text x="610" y="695" font-size="50" font-weight="bold" fill="#fff" text-anchor="middle">50 µm</text>
</g>

<!-- FA10 -->
<g transform="translate(1850 3297)">
<g clip-path="url(#cpD)">
<rect width="723" height="720" fill="#050505"/>
<g filter="url(#soft)">
<use href="#cE" transform="translate(120 100) rotate(80) scale(1.1)"/><use href="#cG" transform="translate(80 60) scale(0.75)"/>
<use href="#cA" transform="translate(320 80) scale(0.95)"/><use href="#cG" transform="translate(420 150) scale(0.85)"/><use href="#cA" transform="translate(600 110) scale(0.95)"/><use href="#cG" transform="translate(680 150) scale(0.65)"/>
<use href="#cE" transform="translate(330 330) rotate(-60) scale(1.1)"/><use href="#cG" transform="translate(300 280) scale(0.75)"/><use href="#cA" transform="translate(560 320) scale(0.95)"/><use href="#cG" transform="translate(660 280) scale(0.65)"/>
<use href="#cA" transform="translate(90 520) scale(0.85)"/><use href="#cG" transform="translate(80 470) scale(0.65)"/><use href="#cA" transform="translate(220 470) scale(0.95)"/><use href="#cE" transform="translate(480 480) rotate(-50) scale(1.1)"/><use href="#cA" transform="translate(640 490) scale(0.85)"/>
<use href="#cA" transform="translate(180 620) scale(1.0)"/><use href="#cG" transform="translate(150 640) scale(0.75)"/><use href="#cA" transform="translate(380 640) scale(1.0)"/><use href="#cA" transform="translate(560 620) scale(0.95)"/><use href="#cG" transform="translate(540 600) scale(0.75)"/><use href="#cA" transform="translate(700 650) scale(0.85)"/>
<use href="#cA" transform="translate(80 710) scale(0.7)"/>
<path d="M30 360L320 40M230 560L500 300" stroke="#b030b8" stroke-width="5" fill="none"/>
</g>
</g>
<rect width="285" height="145" fill="#c8c8c8" opacity=".6"/>
<text x="47" y="99" font-size="80">FA10</text>
<line x1="521" y1="637" x2="708" y2="637" stroke="#fff" stroke-width="3"/>
<text x="615" y="692" font-size="50" font-weight="bold" fill="#fff" text-anchor="middle">50 µm</text>
</g>

<!-- W1282X -->
<g transform="translate(2594 3297)">
<g clip-path="url(#cpD)">
<rect width="721" height="722" fill="#060308"/>
<g filter="url(#soft)">
<use href="#cA" transform="translate(110 100) scale(0.95)"/><use href="#cA" transform="translate(330 80) scale(0.75)"/><use href="#cE" transform="translate(470 180) rotate(60) scale(1.0)"/><use href="#cA" transform="translate(620 120) scale(0.85)"/>
<use href="#cA" transform="translate(70 300) scale(0.75)"/><use href="#cE" transform="translate(200 330) rotate(-70) scale(1.0)"/><use href="#cA" transform="translate(360 290) scale(0.75)"/><use href="#cA" transform="translate(520 300) scale(0.85)"/><use href="#cA" transform="translate(680 260) scale(0.75)"/>
<use href="#cA" transform="translate(80 480) scale(0.95)"/><use href="#cE" transform="translate(280 500) rotate(-80) scale(1.15)"/><use href="#cA" transform="translate(440 450) scale(0.85)"/><use href="#cA" transform="translate(620 480) scale(1.0)"/>
<use href="#cA" transform="translate(130 660) scale(0.95)"/><use href="#cE" transform="translate(360 650) rotate(-70) scale(1.1)"/><use href="#cA" transform="translate(560 650) scale(0.95)"/><use href="#cA" transform="translate(700 680) scale(0.75)"/>
<path d="M380 200L500 420M100 560L300 260M520 350L720 240M250 720L330 420M600 380L640 720" stroke="#c030c8" stroke-width="5" fill="none"/>
</g>
</g>
<rect width="406" height="145" fill="#c8c8c8" opacity=".6"/>
<text x="48" y="99" font-size="80">W1282X</text>
<line x1="519" y1="639" x2="706" y2="639" stroke="#fff" stroke-width="3"/>
<text x="613" y="692" font-size="50" font-weight="bold" fill="#fff" text-anchor="middle">50 µm</text>
</g>

<!-- ================= PANEL E ================= -->
<text x="3372" y="1786" font-size="117">E.</text>
<g clip-path="url(#cpE)">
<rect x="3385" y="1936" width="829" height="823" fill="#f3f3f3"/>
<g transform="translate(3300 1650) scale(0.6293 0.7651)">
<g opacity=".8">
<use href="#ha" x="210" y="430"/><use href="#ha" x="440" y="450"/><use href="#ha" x="572" y="440"/><use href="#ha" x="965" y="452"/><use href="#ha" x="1060" y="468"/><use href="#ha" x="1212" y="452"/><use href="#ha" x="1410" y="410"/>
<use href="#ha" x="305" y="510"/><use href="#ha" x="378" y="565"/><use href="#ha" x="775" y="535"/><use href="#ha" x="1028" y="540"/><use href="#ha" x="1128" y="585"/><use href="#ha" x="1275" y="550"/><use href="#ha" x="1350" y="530"/>
<use href="#ha" x="182" y="578"/><use href="#ha" x="285" y="604"/><use href="#ha" x="492" y="610"/><use href="#ha" x="620" y="615"/><use href="#ha" x="718" y="588"/><use href="#ha" x="905" y="605"/>
<use href="#ha" x="300" y="650"/><use href="#ha" x="600" y="660"/><use href="#ha" x="742" y="665"/><use href="#ha" x="1030" y="660"/>
<use href="#ha" x="255" y="752"/><use href="#ha" x="388" y="748"/><use href="#ha" x="828" y="742"/><use href="#ha" x="1075" y="790"/><use href="#ha" x="1160" y="775"/><use href="#ha" x="1342" y="755"/>
<use href="#ha" x="352" y="822"/><use href="#ha" x="215" y="878"/><use href="#ha" x="682" y="875"/><use href="#ha" x="1120" y="822"/><use href="#ha" x="1355" y="878"/>
<use href="#ha" x="462" y="940"/><use href="#ha" x="572" y="955"/><use href="#ha" x="738" y="955"/><use href="#ha" x="940" y="935"/><use href="#ha" x="1245" y="940"/><use href="#ha" x="1415" y="968"/>
<use href="#ha" x="165" y="1022"/><use href="#ha" x="572" y="1015"/><use href="#ha" x="795" y="1055"/><use href="#ha" x="945" y="1068"/><use href="#ha" x="1300" y="1045"/>
<use href="#ha" x="322" y="1082"/><use href="#ha" x="470" y="1118"/><use href="#ha" x="650" y="1132"/><use href="#ha" x="1015" y="1135"/><use href="#ha" x="1250" y="1120"/><use href="#ha" x="1400" y="1110"/>
<use href="#ha" x="740" y="1162"/><use href="#ha" x="905" y="1195"/><use href="#ha" x="1185" y="1190"/><use href="#ha" x="630" y="1228"/><use href="#ha" x="1000" y="1245"/><use href="#ha" x="1345" y="1238"/>
<use href="#ha" x="230" y="1310"/><use href="#ha" x="510" y="1290"/><use href="#ha" x="790" y="1350"/><use href="#ha" x="970" y="1330"/><use href="#ha" x="1190" y="1292"/>
<use href="#ha" x="300" y="1395"/><use href="#ha" x="715" y="1420"/><use href="#ha" x="860" y="1430"/><use href="#ha" x="1040" y="1415"/><use href="#ha" x="1220" y="1425"/><use href="#ha" x="1430" y="1420"/>
</g>
<g filter="url(#soft2)">
<use href="#nu" x="210" y="430"/><use href="#nu" x="440" y="432"/><use href="#nu" x="455" y="488"/><use href="#nu" x="572" y="440"/><use href="#nu" x="700" y="470"/><use href="#nu" x="965" y="452"/><use href="#nu" x="1040" y="462"/><use href="#nu" x="1077" y="475"/><use href="#nu" x="1212" y="452"/><use href="#nu" x="1390" y="420"/><use href="#nu" x="1440" y="392"/><use href="#nu" x="1350" y="530"/>
<use href="#nu" x="195" y="525"/><use href="#nu" x="305" y="510"/><use href="#nu" x="378" y="565"/><use href="#nu" x="775" y="535"/><use href="#nu" x="842" y="535"/><use href="#nu" x="1028" y="540"/><use href="#nu" x="1128" y="585"/><use href="#nu" x="1270" y="540"/><use href="#nu" x="1278" y="562"/>
<use href="#nu" x="182" y="578"/><use href="#nu" x="285" y="604"/><use href="#nu" x="352" y="608"/><use href="#nu" x="492" y="610"/><use href="#nu" x="620" y="615"/><use href="#nu" x="718" y="588"/><use href="#nu" x="905" y="605"/><use href="#nu" x="1000" y="585"/>
<use href="#nu" x="300" y="650"/><use href="#nu" x="357" y="640"/><use href="#nu" x="480" y="665"/><use href="#nu" x="600" y="660"/><use href="#nu" x="676" y="648"/><use href="#nu" x="742" y="665"/><use href="#nu" x="1030" y="660"/>
<use href="#nu" x="255" y="752"/><use href="#nu" x="388" y="748"/><use href="#nu" x="828" y="742"/><use href="#nu" x="1075" y="790"/><use href="#nu" x="1160" y="775"/><use href="#nu" x="1342" y="755"/>
<use href="#nu" x="352" y="822"/><use href="#nu" x="422" y="805"/><use href="#nu" x="215" y="878"/><use href="#nu" x="682" y="875"/><use href="#nu" x="805" y="852"/><use href="#nu" x="1120" y="822"/><use href="#nu" x="1355" y="878"/>
<use href="#nu" x="462" y="940"/><use href="#nu" x="572" y="955"/><use href="#nu" x="738" y="955"/><use href="#nu" x="940" y="935"/><use href="#nu" x="1125" y="925"/><use href="#nu" x="1245" y="940"/><use href="#nu" x="1415" y="968"/><use href="#nu" x="240" y="970"/><use href="#nu" x="430" y="962"/>
<use href="#nu" x="165" y="1022"/><use href="#nu" x="572" y="1015"/><use href="#nu" x="250" y="1055"/><use href="#nu" x="795" y="1055"/><use href="#nu" x="945" y="1068"/><use href="#nu" x="1300" y="1045"/>
<use href="#nu" x="322" y="1082"/><use href="#nu" x="380" y="1120"/><use href="#nu" x="470" y="1118"/><use href="#nu" x="285" y="1150"/><use href="#nu" x="650" y="1132"/><use href="#nu" x="822" y="1100"/><use href="#nu" x="935" y="1118"/><use href="#nu" x="1015" y="1135"/><use href="#nu" x="1310" y="1105"/><use href="#nu" x="1365" y="1105"/><use href="#nu" x="1425" y="1128"/>
<use href="#nu" x="740" y="1162"/><use href="#nu" x="905" y="1195"/><use href="#nu" x="1185" y="1190"/><use href="#nu" x="630" y="1228"/><use href="#nu" x="705" y="1250"/><use href="#nu" x="1000" y="1245"/><use href="#nu" x="1155" y="1250"/><use href="#nu" x="1240" y="1232"/><use href="#nu" x="1345" y="1238"/><use href="#nu" x="1410" y="1232"/>
<use href="#nu" x="230" y="1310"/><use href="#nu" x="395" y="1318"/><use href="#nu" x="510" y="1280"/><use href="#nu" x="520" y="1305"/><use href="#nu" x="632" y="1330"/><use href="#nu" x="790" y="1350"/><use href="#nu" x="855" y="1325"/><use href="#nu" x="970" y="1330"/><use href="#nu" x="1190" y="1292"/>
<use href="#nu" x="300" y="1395"/><use href="#nu" x="400" y="1360"/><use href="#nu" x="715" y="1420"/><use href="#nu" x="770" y="1405"/><use href="#nu" x="860" y="1430"/><use href="#nu" x="1040" y="1415"/><use href="#nu" x="1220" y="1425"/><use href="#nu" x="1330" y="1400"/><use href="#nu" x="1430" y="1420"/><use href="#nu" x="230" y="1430"/>
</g>
<path d="M1080 882L1148 885" stroke="#8a2cc0" stroke-width="8"/>
</g>
</g>
<line x1="3965" y1="2649" x2="4212" y2="2649" stroke="#000" stroke-width="6"/>
<text x="4088" y="2729" font-size="70" font-weight="bold" text-anchor="middle">100 µm</text>

<!-- ================= PANEL F ================= -->
<text x="3372" y="2958" font-size="117">F.</text>
<text x="3860" y="2973" font-size="74" text-anchor="middle" textLength="388" lengthAdjust="spacingAndGlyphs">Phagocytic</text>
<text x="3860" y="3068" font-size="74" text-anchor="middle" textLength="304" lengthAdjust="spacingAndGlyphs">Function</text>
<text x="3413" y="3484" font-size="55" text-anchor="middle" transform="rotate(-90 3413 3484)" textLength="751" lengthAdjust="spacingAndGlyphs">% Phagocytotic Latex+ Beads</text>
<text x="3488" y="3483" font-size="55" text-anchor="middle" transform="rotate(-90 3488 3483)" textLength="355" lengthAdjust="spacingAndGlyphs">/ CD45+ Cells</text>
<rect x="3728" y="3254" width="125" height="593" fill="#808080" stroke="#000" stroke-width="10"/>
<rect x="3932" y="3242" width="125" height="605" fill="#b3b3b3" stroke="#000" stroke-width="10"/>
<path d="M3649 3129V3850M3624 3129H3649M3624 3273H3649M3624 3417H3649M3624 3559H3649M3624 3703H3649M3624 3847H4131M3790 3847V3875M3995 3847V3875" stroke="#000" stroke-width="6" fill="none"/>
<path d="M3790 3208V3287M3754 3208H3825M3754 3287H3825M3995 3207V3262M3955 3207H4030M3955 3262H4030" stroke="#000" stroke-width="4"/>
<circle cx="3790" cy="3200" r="10"/><circle cx="3767" cy="3269" r="10"/><circle cx="3811" cy="3266" r="10"/>
<rect x="3986" y="3192" width="19" height="19"/><rect x="3964" y="3248" width="19" height="19"/><rect x="4007" y="3241" width="19" height="19"/>
<g font-size="50" font-weight="bold" text-anchor="end">
<text x="3612" y="3147">100</text><text x="3612" y="3291">80</text><text x="3612" y="3435">60</text><text x="3612" y="3577">40</text><text x="3612" y="3721">20</text><text x="3612" y="3865">0</text>
</g>
<text x="3790" y="3934" font-size="50" font-weight="bold" text-anchor="middle" textLength="192" lengthAdjust="spacingAndGlyphs">Healthy</text>
<text x="3995" y="3934" font-size="50" font-weight="bold" text-anchor="middle">CF</text>
</svg>
</body></html>
